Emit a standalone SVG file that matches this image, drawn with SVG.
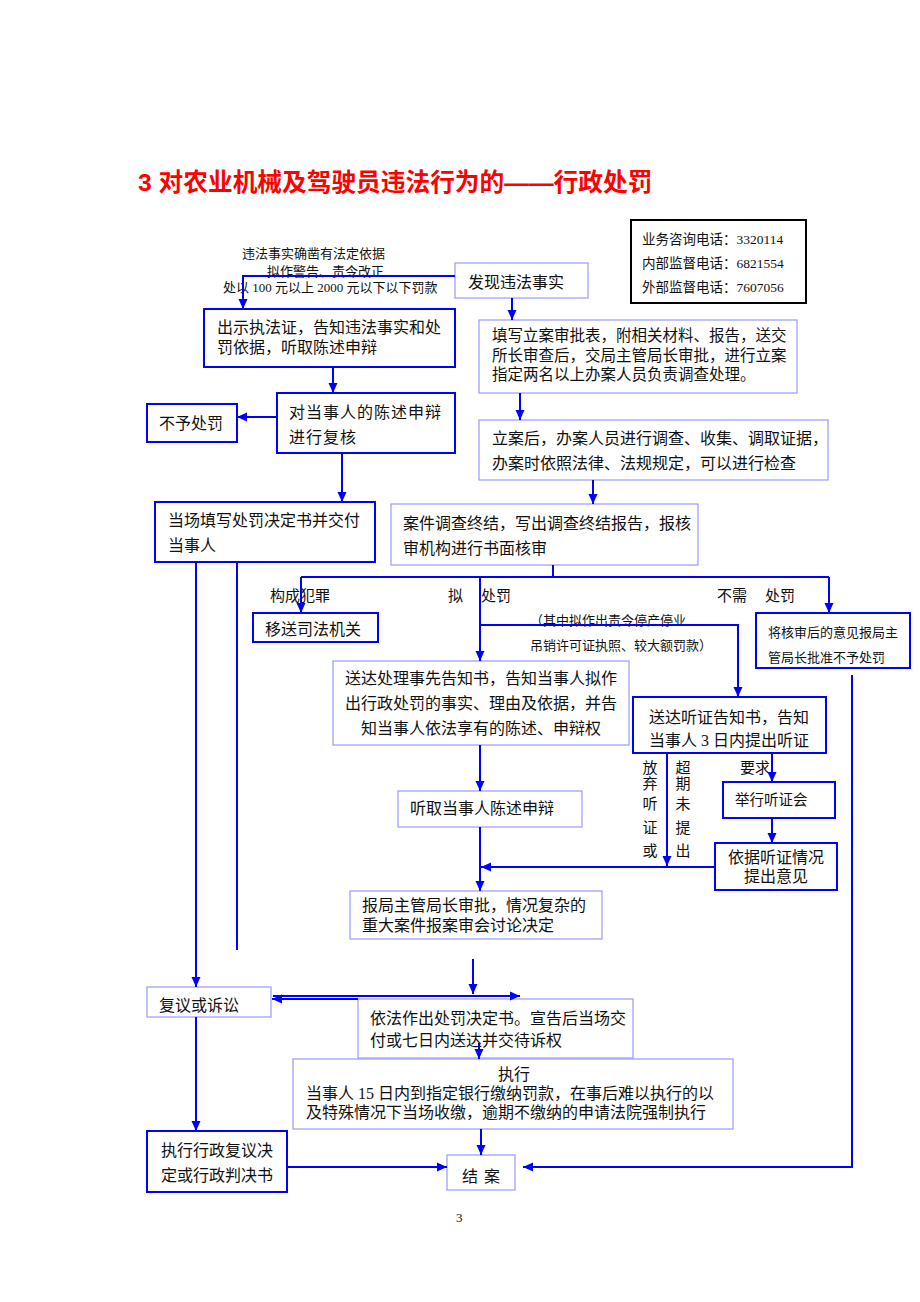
<svg xmlns="http://www.w3.org/2000/svg" width="920" height="1302" viewBox="0 0 920 1302">
<defs>
<marker id="ah" viewBox="0 0 10 10" refX="10" refY="5" markerWidth="10" markerHeight="10" markerUnits="userSpaceOnUse" orient="auto">
<path d="M0,0.5 L10,5 L0,9.5 z" fill="#0000ff"/>
</marker>
<style>
.sb{fill:#fff;stroke:#0000ff;stroke-width:2}
.lb{fill:#fff;stroke:#9999ff;stroke-width:1.2}
.kb{fill:#fff;stroke:#000;stroke-width:2}
.ln{fill:none;stroke:#0000ff;stroke-width:2}
.ar{marker-end:url(#ah)}
text{font-family:"Liberation Serif","Noto Sans CJK SC",serif;fill:#111;font-size:16px}
.s13{font-size:13px}
.s135{font-size:13.5px}
.s15{font-size:15px}
.mid{text-anchor:middle}
.title{font-family:"Liberation Sans","Noto Sans CJK SC",sans-serif;font-size:24.7px;font-weight:bold;fill:#ff0000}
</style>
</defs>
<rect width="920" height="1302" fill="#fff"/>

<text class="title" x="138" y="191">3 对农业机械及驾驶员违法行为的——行政处罚</text>

<g id="contact">
<rect class="kb" x="631" y="220" width="175" height="83"/>
<text class="s135" x="642" y="244">业务咨询电话：3320114</text>
<text class="s135" x="642" y="268">内部监督电话：6821554</text>
<text class="s135" x="642" y="292">外部监督电话：7607056</text>
</g>

<g id="annot-top">
<text class="s13" x="242" y="258">违法事实确凿有法定依据</text>
<text class="s13" x="267" y="276">拟作警告、责令改正</text>
<text class="s13" x="223" y="292">处以 100 元以上 2000 元以下以下罚款</text>
</g>

<g id="n-discover">
<rect class="lb" x="455" y="263" width="133" height="35"/>
<text x="468" y="288">发现违法事实</text>
</g>

<g id="n-show">
<rect class="sb" x="204" y="309" width="251" height="58"/>
<text x="217" y="333">出示执法证，告知违法事实和处</text>
<text x="217" y="353">罚依据，听取陈述申辩</text>
</g>

<g id="n-register">
<rect class="lb" x="479" y="320" width="318" height="73"/>
<text x="492" y="341" style="font-size:15.5px">填写立案审批表，附相关材料、报告，送交</text>
<text x="492" y="361" style="font-size:15.5px">所长审查后，交局主管局长审批，进行立案</text>
<text x="492" y="380" style="font-size:15.5px">指定两名以上办案人员负责调查处理。</text>
</g>

<g id="n-review">
<rect class="sb" x="277" y="393" width="178" height="60"/>
<text x="289" y="418" style="letter-spacing:1px">对当事人的陈述申辩</text>
<text x="289" y="443" style="letter-spacing:1px">进行复核</text>
</g>

<g id="n-nopenalty">
<rect class="sb" x="147" y="404" width="90" height="38"/>
<text x="159" y="429">不予处罚</text>
</g>

<g id="n-investigate">
<rect class="lb" x="479" y="420" width="349" height="60"/>
<text x="492" y="444">立案后，办案人员进行调查、收集、调取证据，</text>
<text x="492" y="469">办案时依照法律、法规规定，可以进行检查</text>
</g>

<g id="n-onsite">
<rect class="sb" x="155" y="502" width="220" height="60"/>
<text x="168" y="526">当场填写处罚决定书并交付</text>
<text x="168" y="551">当事人</text>
</g>

<g id="n-conclude">
<rect class="lb" x="391" y="504" width="307" height="61"/>
<text x="403" y="529">案件调查终结，写出调查终结报告，报核</text>
<text x="403" y="554">审机构进行书面核审</text>
</g>

<g id="branch-labels">
<text class="s15" x="270" y="601">构成犯罪</text>
<text class="s15" x="448" y="601">拟</text>
<text class="s15" x="481" y="601">处罚</text>
<text class="s15" x="717" y="601">不需</text>
<text class="s15" x="765" y="601">处罚</text>
<text class="s13" x="530" y="625">（其中拟作出责令停产停业</text>
<text class="s13" x="530" y="650">吊销许可证执照、较大额罚款）</text>
</g>

<g id="n-transfer">
<rect class="sb" x="253" y="613" width="125" height="29"/>
<text x="265" y="635">移送司法机关</text>
</g>

<g id="n-approve-none">
<rect class="sb" x="756" y="613" width="154" height="55"/>
<text class="s13" x="768" y="637">将核审后的意见报局主</text>
<text class="s13" x="768" y="662">管局长批准不予处罚</text>
</g>

<g id="n-prenotice">
<rect class="lb" x="333" y="661" width="296" height="84"/>
<text class="mid" x="481" y="684">送达处理事先告知书，告知当事人拟作</text>
<text class="mid" x="481" y="709">出行政处罚的事实、理由及依据，并告</text>
<text class="mid" x="481" y="734">知当事人依法享有的陈述、申辩权</text>
</g>

<g id="n-hearingnotice">
<rect class="sb" x="633" y="697" width="193" height="56"/>
<text x="649" y="723">送达听证告知书，告知</text>
<text x="649" y="746">当事人 3 日内提出听证</text>
</g>

<g id="hearing-labels">
<text class="s15 mid" x="650" y="773">放</text>
<text class="s15 mid" x="650" y="789">弃</text>
<text class="s15 mid" x="650" y="809">听</text>
<text class="s15 mid" x="650" y="833">证</text>
<text class="s15 mid" x="650" y="856">或</text>
<text class="s15 mid" x="683" y="773">超</text>
<text class="s15 mid" x="683" y="789">期</text>
<text class="s15 mid" x="683" y="809">未</text>
<text class="s15 mid" x="683" y="833">提</text>
<text class="s15 mid" x="683" y="856">出</text>
<text class="s15" x="740" y="773">要求</text>
</g>

<g id="n-hold">
<rect class="sb" x="723" y="782" width="112" height="36"/>
<text x="735" y="805" style="font-size:14.5px">举行听证会</text>
</g>

<g id="n-opinion">
<rect class="sb" x="715" y="843" width="122" height="47"/>
<text class="mid" x="776" y="863">依据听证情况</text>
<text class="mid" x="776" y="882">提出意见</text>
</g>

<g id="n-listen">
<rect class="lb" x="398" y="791" width="184" height="36"/>
<text x="410" y="814">听取当事人陈述申辩</text>
</g>

<g id="n-report">
<rect class="lb" x="350" y="891" width="252" height="48"/>
<text x="362" y="911">报局主管局长审批，情况复杂的</text>
<text x="362" y="931">重大案件报案审会讨论决定</text>
</g>

<g id="n-appeal">
<rect class="lb" x="147" y="987" width="124" height="30"/>
<text x="159" y="1011">复议或诉讼</text>
</g>

<g id="n-decision">
<rect class="lb" x="358" y="999" width="275" height="59"/>
<text x="370" y="1024">依法作出处罚决定书。宣告后当场交</text>
<text x="370" y="1046">付或七日内送达并交待诉权</text>
</g>

<g id="n-execute">
<rect class="lb" x="293" y="1059" width="440" height="70"/>
<text class="mid" x="514" y="1080">执行</text>
<text x="306" y="1099">当事人 15 日内到指定银行缴纳罚款，在事后难以执行的以</text>
<text x="306" y="1118">及特殊情况下当场收缴，逾期不缴纳的申请法院强制执行</text>
</g>

<g id="n-execreview">
<rect class="sb" x="147" y="1131" width="140" height="61"/>
<text x="161" y="1156">执行行政复议决</text>
<text x="161" y="1181">定或行政判决书</text>
</g>

<g id="n-close">
<rect class="lb" x="447" y="1155" width="68" height="35"/>
<text x="462" y="1182" style="letter-spacing:6px">结案</text>
</g>

<g id="connectors">
<path class="ln ar" d="M455,276 H243 V309"/>
<path class="ln ar" d="M512,298 V320"/>
<path class="ln ar" d="M333,367 V393"/>
<path class="ln ar" d="M277,417 H237"/>
<path class="ln ar" d="M342,453 V502"/>
<path class="ln ar" d="M520,393 V420"/>
<path class="ln ar" d="M593,480 V504"/>
<path class="ln" d="M553,565 V577 M301,577 H829"/>
<path class="ln ar" d="M301,577 V613"/>
<path class="ln ar" d="M829,577 V613"/>
<path class="ln ar" d="M480,577 V661"/>
<path class="ln ar" d="M480,625 H738 V697"/>
<path class="ln ar" d="M480,745 V791"/>
<path class="ln ar" d="M480,827 V891"/>
<path class="ln ar" d="M772,753 V782"/>
<path class="ln ar" d="M772,818 V843"/>
<path class="ln ar" d="M667,753 V866"/>
<path class="ln ar" d="M715,867 H481"/>
<path class="ln ar" d="M852,675 V1167 H523"/>
<path class="ln ar" d="M196,562 V987"/>
<path class="ln" d="M237,562 V950"/>
<path class="ln ar" d="M473,959 V994"/>
<path class="ln ar" d="M273,996 H520"/>
<path class="ln ar" d="M358,999 H272"/>
<path class="ln ar" d="M479,1043 V1059"/>
<path class="ln ar" d="M481,1129 V1155"/>
<path class="ln ar" d="M196,1017 V1131"/>
<path class="ln ar" d="M287,1167 H447"/>
</g>

<text class="s13" x="456" y="1222">3</text>
</svg>
